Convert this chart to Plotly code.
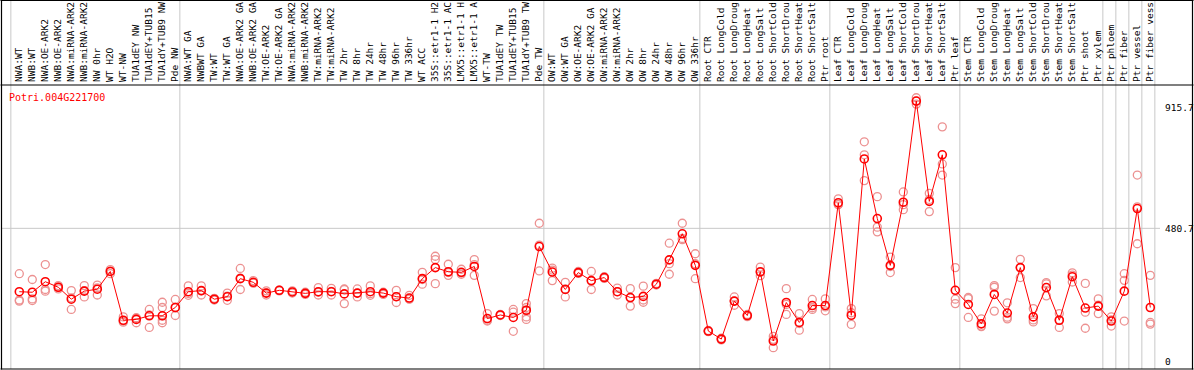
import plotly.graph_objects as go

# ---------------- data ----------------
gene_id = "Potri.004G221700"

labels = [
    "NWA:WT", "NWB:WT", "NWA:OE-ARK2", "NWB:OE-ARK2", "NWA:miRNA-ARK2", "NWB:miRNA-ARK2",
    "NW 0hr", "WT H2O", "WT-NW", "TUA1dEY NW", "TUA1dEY+TUB15", "TUA1dY+TUB9 NW", "Pde NW",
    "NWA:WT GA", "NWBWT GA", "TW:WT", "TW:WT GA", "NWA:OE-ARK2 GA", "NWB:OE-ARK2 GA",
    "TW:OE-ARK2", "TW:OE-ARK2 GA", "NWA:miRNA-ARK2", "NWB:miRNA-ARK2", "TW:miRNA-ARK2",
    "TW:miRNA-ARK2", "TW 2hr", "TW 8hr", "TW 24hr", "TW 48hr", "TW 96hr", "TW 336hr",
    "WT ACC", "35S::etr1-1 H2", "35S::etr1-1 AC", "LMX5::etr1-1 H", "LMX5::etr1-1 A",
    "WT-TW", "TUA1dEY TW", "TUA1dEY+TUB15", "TUA1dY+TUB9 TW", "Pde TW",
    "OW:WT", "OW:WT GA", "OW:OE-ARK2", "OW:OE-ARK2 GA", "OW:miRNA-ARK2", "OW:miRNA-ARK2",
    "OW 2hr", "OW 8hr", "OW 24hr", "OW 48hr", "OW 96hr", "OW 336hr",
    "Root CTR", "Root LongCold", "Root LongDroug", "Root LongHeat", "Root LongSalt",
    "Root ShortCold", "Root ShortDrou", "Root ShortHeat", "Root ShortSalt", "Ptr root",
    "Leaf CTR", "Leaf LongCold", "Leaf LongDroug", "Leaf LongHeat", "Leaf LongSalt",
    "Leaf ShortCold", "Leaf ShortDrou", "Leaf ShortHeat", "Leaf ShortSalt", "Ptr leaf",
    "Stem CTR", "Stem LongCold", "Stem LongDroug", "Stem LongHeat", "Stem LongSalt",
    "Stem ShortCold", "Stem ShortDrou", "Stem ShortHeat", "Stem ShortSalt", "Ptr shoot",
    "Ptr xylem", "Ptr phloem", "Ptr fiber", "Ptr vessel", "Ptr fiber vess",
]

group_sizes = [13, 28, 12, 10, 10, 11, 1, 1, 1, 1]

means = [
    252, 250, 288, 268, 225, 254, 261, 325, 149, 152, 165, 165, 195,
    252, 256, 225, 234, 299, 286, 247, 257, 251, 246, 252, 252, 244, 247, 252, 247,
    234, 229, 299, 339, 324, 322, 343, 155, 168, 159, 185, 415,
    323, 260, 321, 292, 303, 252, 231, 235, 279, 367, 461, 347,
    110, 81, 218, 166, 324, 74, 213, 141, 202, 202,
    573, 167, 731, 516, 347, 575, 940, 578, 746, 257,
    206, 136, 242, 175, 339, 161, 267, 149, 306, 193, 200,
    146, 254, 552, 195,
]

replicates = [
    [317, 218, 222], [296, 226, 220], [350, 260, 254], [274, 262, 268], [256, 188, 230],
    [274, 233, 256], [276, 240, 266], [332, 317, 326], [161, 142, 146], [158, 140, 156],
    [188, 123, 168], [214, 195, 149, 140, 165], [224, 166, 195],
    [273, 239, 246], [273, 240, 255], [222, 226, 228], [247, 221, 236], [336, 260, 301],
    [292, 283, 284], [255, 240, 248], [258, 255, 257], [255, 247, 251], [250, 242, 246],
    [267, 240, 250], [264, 240, 253], [262, 209, 260], [262, 233, 247], [273, 239, 245],
    [250, 242, 247], [257, 213, 234], [239, 225, 226], [322, 279, 296], [380, 368, 281],
    [351, 311, 321], [333, 315, 320], [368, 311, 350], [173, 149, 146], [170, 166, 168],
    [188, 109, 178], [209, 161, 152, 185, 195], [499, 327, 420],
    [337, 292, 330], [286, 233, 262], [325, 318, 320], [325, 260, 291], [306, 300, 303],
    [265, 240, 252], [263, 200, 230], [272, 214, 222], [282, 276, 279], [427, 353, 315],
    [499, 440, 444], [389, 299, 353],
    [112, 108, 110], [84, 78, 81], [233, 203, 218], [170, 162, 166], [341, 310, 322],
    [91, 50, 80], [263, 170, 206], [173, 113, 137], [224, 188, 194], [226, 183, 197],
    [587, 566, 567], [191, 134, 176], [793, 746, 653], [595, 485, 468], [377, 321, 343],
    [612, 548, 566], [952, 929, 940], [607, 541, 585], [847, 713, 673], [339, 225, 209],
    [227, 159, 231], [154, 128, 126], [274, 182, 268], [212, 154, 160], [369, 303, 339],
    [191, 143, 150], [285, 237, 280], [173, 123, 151], [320, 287, 312], [282, 120, 178],
    [226, 173, 203],
    [161, 128, 150], [317, 293, 146], [673, 425, 558], [311, 141, 135],
]

ytick_vals = [0, 480.7, 915.7]
ytick_text = ["0", "480.7", "915.7"]

# ---------------- figure ----------------
W, H = 1194, 370
ML, MR, MT, MB = 1, 34, 85, 1
PLOT_W = W - ML - MR
PLOT_H = H - MT - MB


def px_x(p):
    return (p - ML) / PLOT_W


def px_y(p):
    return (H - MB - p) / PLOT_H


FONT = "DejaVu Sans Mono"
x_idx = list(range(len(labels)))

rep_x, rep_y = [], []
for i, reps in enumerate(replicates):
    for v in reps:
        rep_x.append(i)
        rep_y.append(v)

fig = go.Figure()
fig.add_trace(go.Scatter(
    x=rep_x, y=rep_y, mode="markers",
    marker=dict(symbol="circle-open", size=8, color="rgb(236,145,145)",
                line=dict(width=1.3, color="rgb(236,145,145)")),
    hoverinfo="skip", showlegend=False, cliponaxis=False,
))
fig.add_trace(go.Scatter(
    x=x_idx, y=means, mode="lines+markers",
    line=dict(color="#ff0000", width=1),
    marker=dict(symbol="circle-open", size=8, color="#ff0000",
                line=dict(width=1.6, color="#ff0000")),
    showlegend=False, cliponaxis=False,
))

shapes = []
# group separators
start = 0
bounds = [0]
for g in group_sizes:
    start += g
    bounds.append(start)
for b in bounds:
    shapes.append(dict(type="line", xref="x", yref="paper",
                       x0=b - 0.65, x1=b - 0.65, y0=0, y1=px_y(0),
                       line=dict(color="#c8c8c8", width=1), layer="below"))
# horizontal grid at 480.7
shapes.append(dict(type="line", xref="paper", yref="y", x0=0, x1=1,
                   y0=ytick_vals[1], y1=ytick_vals[1],
                   line=dict(color="#c8c8c8", width=1), layer="below"))
# frame
black = dict(color="black", width=1.2)
shapes.append(dict(type="line", xref="paper", yref="paper", x0=px_x(0.5), x1=px_x(1193.5),
                   y0=px_y(0.5), y1=px_y(0.5), line=black))
shapes.append(dict(type="line", xref="paper", yref="paper", x0=px_x(0.5), x1=px_x(1193.5),
                   y0=px_y(85), y1=px_y(85), line=black))
shapes.append(dict(type="line", xref="paper", yref="paper", x0=px_x(0.5), x1=px_x(1193.5),
                   y0=px_y(369), y1=px_y(369), line=black))
shapes.append(dict(type="line", xref="paper", yref="paper", x0=px_x(1.5), x1=px_x(1.5),
                   y0=px_y(0), y1=px_y(369.5), line=black))
shapes.append(dict(type="line", xref="paper", yref="paper", x0=px_x(1192.5), x1=px_x(1192.5),
                   y0=px_y(0), y1=px_y(369.5), line=black))

fig.update_layout(
    width=W, height=H,
    margin=dict(l=ML, r=MR, t=MT, b=MB, pad=0, autoexpand=False),
    paper_bgcolor="white", plot_bgcolor="white",
    shapes=shapes,
    font=dict(family=FONT, size=10, color="black"),
    annotations=[dict(text=gene_id, xref="paper", yref="paper",
                      x=px_x(7), y=px_y(97), xanchor="left", yanchor="middle",
                      showarrow=False, font=dict(family=FONT, size=10, color="#ff0000"))],
)
fig.update_xaxes(
    range=[(1 - 19.3) / 13, (1160 - 19.3) / 13], automargin=False,
    side="top", tickmode="array", tickvals=x_idx, ticktext=labels,
    tickangle=-90, showgrid=False, zeroline=False, showline=False, ticks="",
    ticklabelstandoff=2,
    tickfont=dict(family=FONT, size=9.5, color="black"),
)
fig.update_yaxes(
    range=[-27, 998], side="right", tickmode="array", automargin=False,
    tickvals=ytick_vals, ticktext=ytick_text,
    showgrid=False, zeroline=False, showline=False, ticks="",
    ticklabelstandoff=4,
    tickfont=dict(family=FONT, size=9.5, color="black"),
)

fig.write_html(
    "out.html",
    config={"displayModeBar": False},
    post_script="document.body.style.margin='0px';document.body.style.overflow='hidden';",
)
